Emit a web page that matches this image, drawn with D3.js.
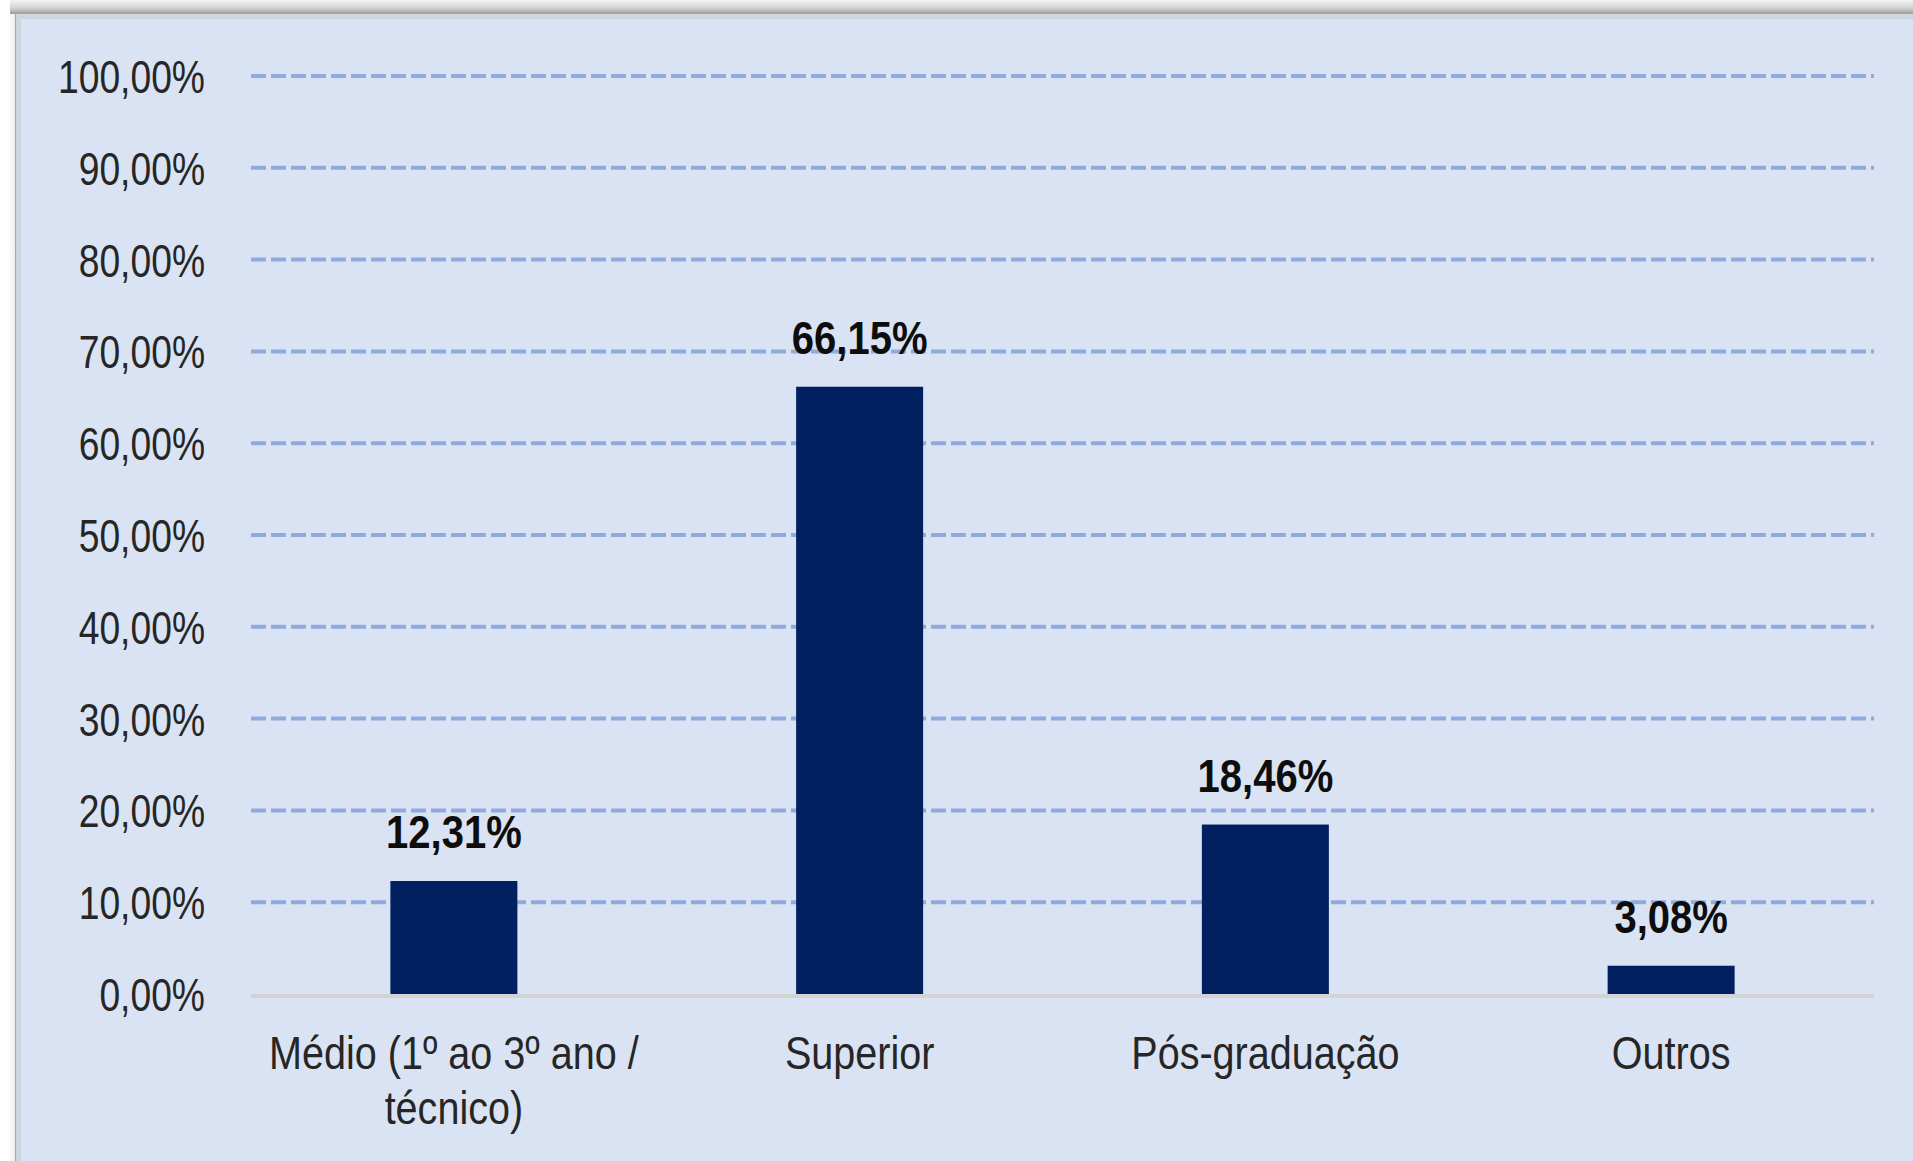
<!DOCTYPE html>
<html>
<head>
<meta charset="utf-8">
<script src="https://cdn.jsdelivr.net/npm/d3@7"></script>
<style>
  body { margin: 0; background: #ffffff; }
  text { font-family: "Liberation Sans Narrow", "Arial Narrow", "Liberation Sans", sans-serif; }
</style>
</head>
<body>
<div id="container"></div>
<script>
"use strict";

const categories = ["Médio (1º ao 3º ano / técnico)", "Superior", "Pós-graduação", "Outros"];
const categoryLines = [["Médio (1º ao 3º ano /", "técnico)"], ["Superior"], ["Pós-graduação"], ["Outros"]];
const values = [12.31, 66.15, 18.46, 3.08];
const yTicks = [0, 10, 20, 30, 40, 50, 60, 70, 80, 90, 100];

const width = 1913;
const height = 1161;
const plotLeft = 251;
const plotRight = 1874;
const plotTop = 76;
const plotBottom = 994;

const panelColor = "#dae3f3";
const barColor = "#002060";
const gridColor = "#8faadc";
const fontSize = 46;

// no narrow font in the sandbox, so squeeze the regular one
const narrow = "scale(0.81,1)";
const narrowCat = "scale(0.86,1)";
const narrowBold = "scale(0.87,1)";

const ptBR = d3.formatLocale({ decimal: ",", thousands: ".", grouping: [3], currency: ["R$", ""] });
const fmt = ptBR.format(".2f");

const svg = d3.select("#container")
  .append("svg")
  .attr("width", width)
  .attr("height", height);

const defs = svg.append("defs");
const shadow = defs.append("linearGradient")
  .attr("id", "topShadow")
  .attr("x1", 0).attr("y1", 0).attr("x2", 0).attr("y2", 1);
shadow.append("stop").attr("offset", "0%").attr("stop-color", "#f4f4f4");
shadow.append("stop").attr("offset", "55%").attr("stop-color", "#d4d4d4");
shadow.append("stop").attr("offset", "100%").attr("stop-color", "#9c9c9c");

const leftShadow = defs.append("linearGradient")
  .attr("id", "leftShadow")
  .attr("x1", 0).attr("y1", 0).attr("x2", 1).attr("y2", 0);
leftShadow.append("stop").attr("offset", "0%").attr("stop-color", "#ffffff");
leftShadow.append("stop").attr("offset", "100%").attr("stop-color", "#ececec");

// panel, border and shadow
svg.append("rect").attr("x", 10).attr("y", 0).attr("width", width - 10).attr("height", 14)
  .attr("fill", "url(#topShadow)");
svg.append("rect").attr("x", 8).attr("y", 14).attr("width", 7).attr("height", height - 14)
  .attr("fill", "url(#leftShadow)");
svg.append("rect").attr("x", 15).attr("y", 14).attr("width", width - 15).attr("height", height - 14)
  .attr("fill", "#d2d6de");
svg.append("rect").attr("x", 16).attr("y", 15).attr("width", width - 16).attr("height", height - 15)
  .attr("fill", "#cfd5df");
svg.append("rect").attr("x", 21).attr("y", 19).attr("width", width - 21).attr("height", height - 19)
  .attr("fill", panelColor);
svg.append("line").attr("x1", 15.5).attr("x2", 15.5).attr("y1", 14).attr("y2", height)
  .attr("stroke", "#a8a8a8").attr("stroke-width", 1);

const x = d3.scaleBand()
  .domain(categories)
  .range([plotLeft, plotRight])
  .padding(0);

const y = d3.scaleLinear()
  .domain([0, 100])
  .range([plotBottom, plotTop]);

const barWidth = x.bandwidth() * 0.313;

// gridlines
svg.append("g")
  .selectAll("line")
  .data(yTicks.filter(d => d > 0))
  .join("line")
  .attr("x1", plotLeft)
  .attr("x2", plotRight)
  .attr("y1", d => y(d))
  .attr("y2", d => y(d))
  .attr("stroke", gridColor)
  .attr("stroke-width", 4)
  .attr("stroke-dasharray", "15,5");

// baseline
svg.append("line")
  .attr("x1", plotLeft).attr("x2", plotRight)
  .attr("y1", y(0) + 2).attr("y2", y(0) + 2)
  .attr("stroke", "#d3d3d3")
  .attr("stroke-width", 4);

// y axis labels
const yAxis = d3.axisLeft(y)
  .tickValues(yTicks)
  .tickSize(0)
  .tickPadding(0)
  .tickFormat(d => fmt(d) + "%");

const yG = svg.append("g")
  .attr("transform", `translate(205,0)`)
  .call(yAxis);
yG.select(".domain").remove();
yG.selectAll("text")
  .attr("font-family", null)
  .style("font-size", fontSize + "px")
  .attr("fill", "#262626")
  .attr("dy", "0.36em")
  .attr("transform", narrow);

// bars
svg.append("g")
  .selectAll("rect")
  .data(values)
  .join("rect")
  .attr("x", (d, i) => x(categories[i]) + x.bandwidth() / 2 - barWidth / 2)
  .attr("y", d => y(d))
  .attr("width", barWidth)
  .attr("height", d => y(0) - y(d))
  .attr("fill", barColor);

// value labels
svg.append("g")
  .selectAll("text")
  .data(values)
  .join("text")
  .attr("transform", (d, i) => `translate(${x(categories[i]) + x.bandwidth() / 2},${y(d) - 33}) ${narrowBold}`)
  .attr("text-anchor", "middle")
  .style("font-size", fontSize + "px")
  .style("font-weight", "bold")
  .attr("fill", "#0d0d0d")
  .text(d => fmt(d) + "%");

// category labels
const xLabels = svg.append("g")
  .selectAll("text")
  .data(categoryLines)
  .join("text")
  .attr("transform", (d, i) => `translate(${x(categories[i]) + x.bandwidth() / 2},1069) ${narrowCat}`)
  .attr("text-anchor", "middle")
  .style("font-size", fontSize + "px")
  .attr("fill", "#262626");

xLabels.selectAll("tspan")
  .data(d => d)
  .join("tspan")
  .attr("x", 0)
  .attr("dy", (d, i) => i === 0 ? 0 : 55)
  .text(d => d);
</script>
</body>
</html>
